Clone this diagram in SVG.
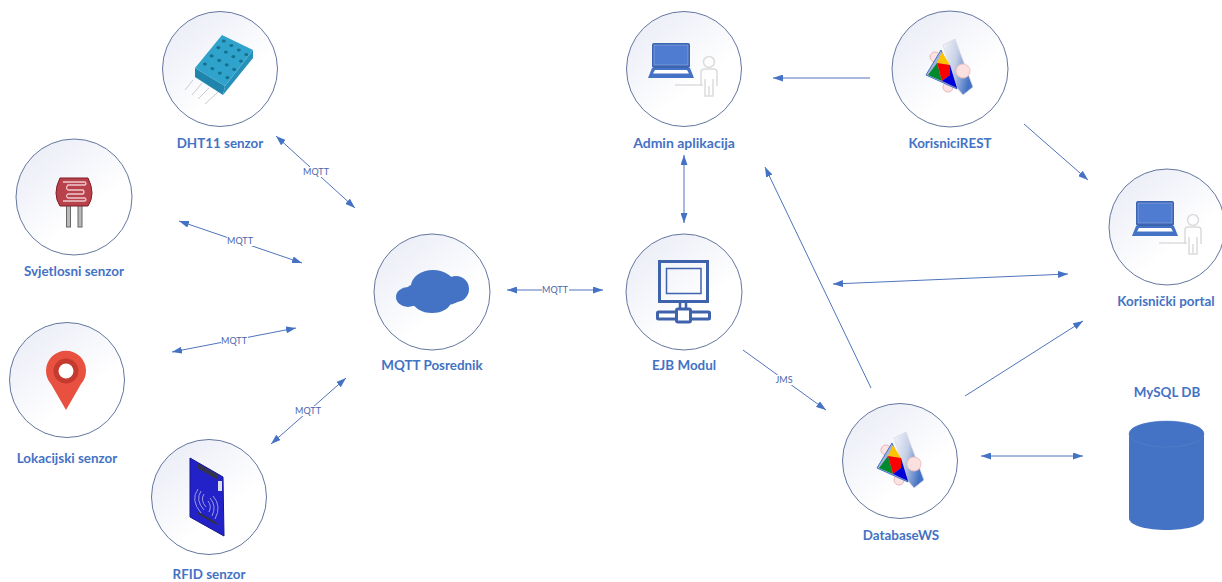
<svg xmlns="http://www.w3.org/2000/svg" width="1222" height="582" viewBox="0 0 1222 582">
<style>
.c{fill:url(#g);stroke:#64769f;stroke-width:1}
.l{font:bold 13.400px Lato,"Liberation Sans",sans-serif;fill:#4472c4;text-anchor:middle}
.m{font:9px Lato,"Liberation Sans",sans-serif;fill:#4a64a8;text-anchor:middle}
.a{stroke:#4f74bb;stroke-width:1;fill:none;marker-end:url(#h);marker-start:url(#t)}
.b{stroke:#4f74bb;stroke-width:1;fill:none;marker-end:url(#h)}
.bg{fill:#fff}
.blue{fill:#4472c4}
.pers{fill:none;stroke:#dcdcdc;stroke-width:1.500}
</style>
<defs>
<linearGradient id="g" x1="0.15" y1="0.1" x2="0.75" y2="0.85"><stop offset="0" stop-color="#eceef7"/><stop offset="0.75" stop-color="#ffffff"/></linearGradient>
<linearGradient id="w" x1="0" y1="0" x2="1" y2="0.4"><stop offset="0" stop-color="#f4f5fa"/><stop offset="0.5" stop-color="#c5cfe6"/><stop offset="1" stop-color="#4472c4"/></linearGradient>
<marker id="h" viewBox="0 0 10 7" refX="10" refY="3.500" markerWidth="10" markerHeight="7" markerUnits="userSpaceOnUse" orient="auto"><path d="M0 0L10 3.500L0 7z" fill="#4472c4"/></marker>
<marker id="t" viewBox="0 0 10 7" refX="0" refY="3.500" markerWidth="10" markerHeight="7" markerUnits="userSpaceOnUse" orient="auto"><path d="M10 0L0 3.500L10 7z" fill="#4472c4"/></marker>
<g id="laptop">
<rect x="-33" y="-25" width="38" height="25" rx="2" fill="#3a63b0"/>
<rect x="-31" y="-23" width="34" height="20" fill="#4f7bd0" stroke="#a9bde6" stroke-width="0.500"/>
<path d="M-33 0H5L9 10H-37z" fill="#4472c4"/>
<path d="M-30 2H2L4 5.500H-32z" fill="#fff"/>
<path d="M-10 17H18" class="pers"/>
<circle cx="24" cy="-6" r="5.500" class="pers"/>
<path d="M16 18V4Q16 1 19 1H29Q32 1 32 4V18M20 11V28H28V11M24 18V28" class="pers"/>
</g>
<g id="ws">
<path d="M-4 -19L8 -25L26 23L16 31L10 24Z" fill="url(#w)" stroke="#d8dbe6" stroke-width="0.800"/>
<circle cx="-12" cy="-7" r="5" fill="#fbe3e3" stroke="#e8b5b5"/>
<circle cx="1" cy="23" r="5" fill="#fbe3e3" stroke="#e8b5b5"/>
<circle cx="16" cy="7" r="7" fill="#fbe0e0" stroke="#efc0c0"/>
<path d="M-6 -14L-21 11L10 25Z" fill="#a3b3da" stroke="#4472c4"/>
<path d="M-5 -12L3 1L-10 -1Z" fill="#fcc400"/>
<path d="M-10 -1L-19 11L-5 17Z" fill="#008a2e"/>
<path d="M-10 -1L3 1L3 11L-5 17Z" fill="#f00"/>
<path d="M3 1L10 24L-5 17L3 11Z" fill="#0000d8"/>
</g>
</defs>

<g id="connectors">
<path class="a" d="M276 136L355 208"/>
<path class="a" d="M179 221L302 263"/>
<path class="a" d="M172 352L296 328"/>
<path class="a" d="M271 444L346 378"/>
<path class="a" d="M507 290L603 290"/>
<path class="a" d="M684 155L684 223"/>
<path class="b" d="M870 78L773 78"/>
<path class="b" d="M1024 124L1088 180"/>
<path class="b" d="M743 350L826 410"/>
<path class="b" d="M871 388L765 167"/>
<path class="a" d="M833 284L1068 274"/>
<path class="b" d="M965 396L1083 321"/>
<path class="a" d="M981 456L1083 456"/>
<g id="connector-labels">
<rect class="bg" x="303" y="167" width="27" height="10"/><text class="m" x="316" y="175">MQTT</text>
<rect class="bg" x="227" y="236" width="27" height="10"/><text class="m" x="240" y="244">MQTT</text>
<rect class="bg" x="221" y="336" width="27" height="10"/><text class="m" x="234" y="344">MQTT</text>
<rect class="bg" x="295" y="406" width="27" height="10"/><text class="m" x="308" y="414">MQTT</text>
<rect class="bg" x="542" y="285" width="27" height="10"/><text class="m" x="555" y="293">MQTT</text>
<rect class="bg" x="775" y="375" width="18" height="10"/><text class="m" x="784" y="383">JMS</text>
</g>
</g>

<g id="dht11">
<circle class="c" cx="220" cy="69" r="57.500"/>
<g stroke="#c9ccc8" stroke-width="1"><path d="M193 80L185 90M202 83L192 95M209 88L198 99M218 92L205 104"/></g>
<path d="M195 68V77L223 95L225 86Z" fill="#1f85ac"/>
<path d="M225 86L223 95L253 58V50Z" fill="#2590b8"/>
<path d="M195 68L222 35L253 50L225 86Z" fill="#30a3cd"/>
<g fill="#17708f"><ellipse cx="204.900" cy="64.100" rx="2" ry="1.600"/><ellipse cx="211.600" cy="55.900" rx="2" ry="1.600"/><ellipse cx="218.400" cy="47.600" rx="2" ry="1.600"/><ellipse cx="223.800" cy="41" rx="2" ry="1.600"/><ellipse cx="212.400" cy="68.600" rx="2" ry="1.600"/><ellipse cx="219.200" cy="60.400" rx="2" ry="1.600"/><ellipse cx="225.900" cy="52.100" rx="2" ry="1.600"/><ellipse cx="231.300" cy="45.500" rx="2" ry="1.600"/><ellipse cx="219.900" cy="73.100" rx="2" ry="1.600"/><ellipse cx="226.700" cy="64.900" rx="2" ry="1.600"/><ellipse cx="233.400" cy="56.600" rx="2" ry="1.600"/><ellipse cx="238.800" cy="50" rx="2" ry="1.600"/><ellipse cx="227.400" cy="77.600" rx="2" ry="1.600"/><ellipse cx="234.200" cy="69.400" rx="2" ry="1.600"/><ellipse cx="240.900" cy="61.100" rx="2" ry="1.600"/><ellipse cx="246.300" cy="54.500" rx="2" ry="1.600"/></g>
<text class="l" x="220" y="148">DHT11 senzor</text>
</g>

<g id="svjetlosni">
<circle class="c" cx="74" cy="197" r="58"/>
<rect x="66.500" y="204" width="4" height="23" fill="#b9b9b9" stroke="#666"/>
<rect x="78" y="204" width="4" height="23" fill="#b9b9b9" stroke="#666"/>
<path d="M60 178H88Q92 186 92 193Q92 200 88 206H60Q56 200 56 193Q56 186 60 178Z" fill="#b8414c" stroke="#7c1f28"/>
<path d="M63 182H85Q87 184 85 185H68Q65 188 68 190H83Q85 192 83 194H68Q65 196 68 198H85Q87 200 85 201H63" fill="none" stroke="#edc9cc" stroke-width="1.300"/>
<text class="l" x="74" y="276">Svjetlosni senzor</text>
</g>

<g id="lokacijski">
<circle class="c" cx="67" cy="380" r="57.500"/>
<path d="M66 410L51 384A20 20 0 1 1 81 384Z" fill="#e8503f"/>
<circle cx="66" cy="371" r="12.500" fill="#c53a2f"/>
<circle cx="66" cy="371" r="7.500" fill="#fff"/>
<text class="l" x="67" y="463">Lokacijski senzor</text>
</g>

<g id="rfid">
<circle class="c" cx="209" cy="497" r="57.500"/>
<path d="M190 458L223 477L224 536L190 517Z" fill="#2222c8" stroke="#15158a"/>
<path d="M197 463L218 475V480L197 468Z" fill="#33334d"/>
<rect x="218" y="481" width="4" height="10" fill="#dde"/>
<g fill="none" stroke="#a9a9e8" stroke-width="0.900"><path d="M198 489Q190 500 201 513"/><path d="M201 491Q195 500 204 510"/><path d="M204 494Q200 500 206 507"/><path d="M213 496Q222 506 215 519"/><path d="M210 498Q217 506 212 516"/><path d="M208 501Q212 506 209 512"/></g>
<path d="M198 513L217 524" stroke="#333" stroke-width="2"/>
<text class="l" x="209" y="579">RFID senzor</text>
</g>

<g id="mqtt-posrednik">
<circle class="c" cx="432" cy="292" r="58"/>
<g class="blue"><ellipse cx="408" cy="297" rx="12" ry="10"/><ellipse cx="433" cy="286" rx="22" ry="16"/><ellipse cx="456" cy="289" rx="13" ry="13"/><ellipse cx="432" cy="301" rx="19" ry="12"/><ellipse cx="446" cy="283" rx="8" ry="8"/><ellipse cx="420" cy="298" rx="14" ry="9"/><ellipse cx="447" cy="296" rx="14" ry="9"/><ellipse cx="416" cy="291" rx="10" ry="7"/></g>
<text class="l" x="432" y="370">MQTT Posrednik</text>
</g>

<g id="ejb-modul">
<circle class="c" cx="684" cy="292" r="58"/>
<g fill="none" stroke="#3f62ad">
<rect x="659.500" y="261.500" width="48" height="40" stroke-width="3"/>
<rect x="666.500" y="268.500" width="34.500" height="25" stroke-width="1.500"/>
<path d="M680 302V310M686 302V310" stroke-width="2.500"/>
<rect x="657.500" y="312" width="52" height="7" rx="1" fill="#fff" stroke-width="3"/>
<rect x="676.500" y="309" width="14" height="13" rx="1.500" fill="#fff" stroke-width="3"/>
</g>
<text class="l" x="684" y="370">EJB Modul</text>
</g>

<g id="admin-aplikacija">
<circle class="c" cx="684" cy="69" r="57.500"/>
<use href="#laptop" x="685" y="68"/>
<text class="l" style="font-size:14px" x="684" y="148">Admin aplikacija</text>
</g>

<g id="korisnici-rest">
<circle class="c" cx="950" cy="69" r="58"/>
<use href="#ws" x="947" y="64"/>
<text class="l" x="950" y="148">KorisniciREST</text>
</g>

<g id="korisnicki-portal">
<circle class="c" cx="1167" cy="227" r="58"/>
<use href="#laptop" x="1169" y="226"/>
<text class="l" x="1166" y="306">Korisnički portal</text>
</g>

<g id="database-ws">
<circle class="c" cx="900" cy="461" r="57.500"/>
<use href="#ws" x="898" y="457"/>
<text class="l" x="901" y="540">DatabaseWS</text>
</g>

<g id="mysql-db">
<path class="blue" d="M1129 434C1129 417 1204 417 1204 434V518C1204 534 1129 534 1129 518Z"/>
<ellipse cx="1166.500" cy="434" rx="37.500" ry="13" fill="#4472c4" stroke="#5f86cc" stroke-width="0.500"/>
<text class="l" x="1167" y="397">MySQL DB</text>
</g>
</svg>
